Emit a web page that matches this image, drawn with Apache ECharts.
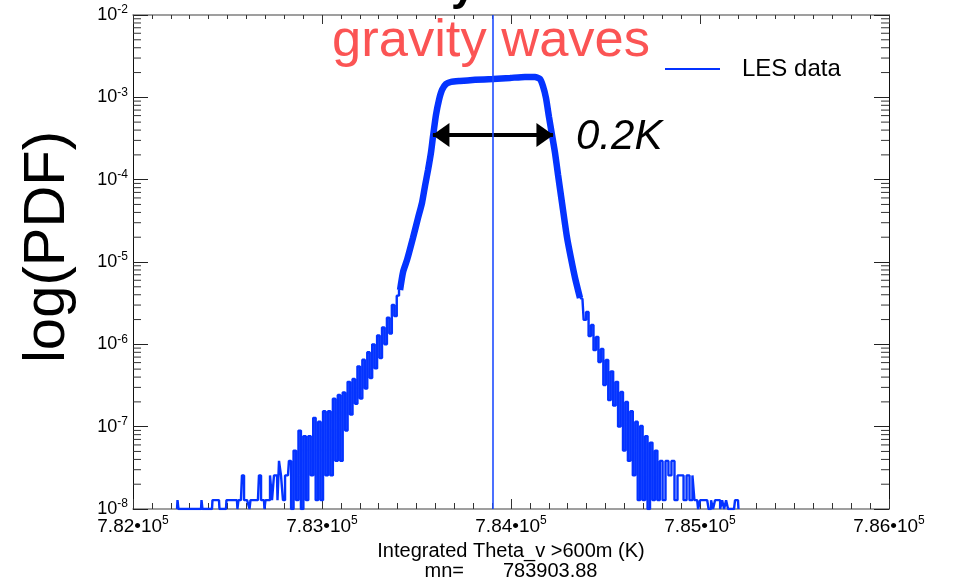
<!DOCTYPE html>
<html>
<head>
<meta charset="utf-8">
<script src="https://cdn.jsdelivr.net/npm/echarts@6/dist/echarts.min.js"></script>
<style>
  html, body { margin: 0; padding: 0; background: #ffffff; }
  #chart { width: 955px; height: 579px; }
</style>
</head>
<body>
<div id="chart"></div>
<script>
// Axis ranges and tick values
const X_MIN = 782000, X_MAX = 786000, X_STEP = 1000;
const Y_MIN = 1e-8, Y_MAX = 1e-2;
const xTickExponent = 5;
const yDecades = [-8, -7, -6, -5, -4, -3];
const yMinorMultipliers = [2, 3, 4, 5, 6, 7, 8, 9];

// Mean of the integrated theta_v field (K)
const meanTheta = 783903.88;

// PDF of integrated theta_v: [theta_v (K), PDF]; empty bins are 0
const leftTail = [
  [782233, 0], [782238, 1.28e-8], [782243, 0],
  [782360, 0], [782365, 1.28e-8], [782370, 0],
  [782418, 0], [782423, 1.28e-8], [782455, 1.28e-8], [782460, 0],
  [782492, 0], [782497, 1.28e-8], [782550, 1.28e-8], [782555, 0],
  [782561, 1.28e-8], [782571, 1.28e-8], [782582, 2.56e-8], [782593, 1.28e-8],
  [782614, 1.28e-8], [782619, 0], [782624, 1.28e-8], [782661, 1.28e-8],
  [782672, 2.56e-8], [782683, 1.28e-8], [782693, 1.28e-8], [782698, 0],
  [782704, 1.28e-8], [782720, 1.28e-8], [782730, 2.56e-8], [782741, 1.28e-8],
  [782751, 2.56e-8], [782762, 2.56e-8], [782767, 1.28e-8], [782778, 3.84e-8],
  [782788, 2.56e-8], [782799, 1.28e-8], [782810, 2.56e-8], [782820, 2.56e-8],
  [782830, 3.84e-8], [782843, 0], [782856, 5.12e-8], [782869, 1.28e-8],
  [782882, 8.96e-8], [782895, 0], [782908, 7.68e-8], [782921, 1.28e-8],
  [782934, 7.68e-8], [782947, 2.56e-8], [782960, 1.28e-7], [782973, 1.28e-8],
  [782986, 1.15e-7], [782999, 1.28e-8], [783012, 1.54e-7], [783025, 2.56e-8],
  [783038, 1.54e-7], [783051, 2.56e-8], [783064, 2.18e-7], [783077, 3.84e-8],
  [783090, 2.43e-7], [783103, 3.84e-8], [783116, 2.6e-7], [783129, 8.96e-8],
  [783142, 3.5e-7], [783155, 1.4e-7], [783168, 3.8e-7], [783181, 1.9e-7],
  [783194, 5.4e-7], [783207, 2.2e-7], [783220, 6.5e-7], [783233, 2.9e-7],
  [783246, 8.0e-7], [783259, 3.9e-7], [783272, 1.0e-6], [783285, 5.1e-7],
  [783298, 1.28e-6], [783311, 6.8e-7], [783324, 1.6e-6], [783337, 1.0e-6],
  [783350, 2.1e-6], [783363, 1.35e-6], [783376, 3.0e-6], [783389, 2.2e-6],
  [783402, 3.9e-6], [783413, 4.57e-6]
];

const core = [
  [783413, 4.57e-6], [783429, 7.57e-6], [783450, 1.06e-5], [783481, 1.95e-5],
  [783508, 3.42e-5], [783529, 5.21e-5], [783545, 8.38e-5], [783561, 1.31e-4],
  [783577, 2.17e-4], [783587, 3.30e-4], [783603, 6.10e-4], [783619, 9.29e-4],
  [783635, 1.23e-3], [783656, 1.45e-3], [783683, 1.54e-3], [783730, 1.58e-3],
  [783810, 1.63e-3], [783905, 1.67e-3], [783995, 1.72e-3], [784074, 1.77e-3],
  [784127, 1.77e-3], [784153, 1.67e-3], [784169, 1.37e-3], [784185, 9.82e-4],
  [784201, 5.77e-4], [784217, 3.49e-4], [784233, 2.11e-4], [784249, 1.14e-4],
  [784270, 5.21e-5], [784296, 2.01e-5], [784317, 1.12e-5], [784339, 6.40e-6],
  [784365, 3.66e-6]
];

const rightTail = [
  [784365, 3.66e-6], [784378, 3.56e-6], [784391, 1.98e-6], [784404, 2.47e-6],
  [784417, 1.26e-6], [784430, 1.72e-6], [784443, 8.5e-7], [784456, 1.23e-6],
  [784469, 6.1e-7], [784482, 8.8e-7], [784495, 3.2e-7], [784508, 6.45e-7],
  [784521, 2.1e-7], [784534, 4.7e-7], [784547, 1.8e-7], [784560, 3.5e-7],
  [784573, 1.0e-7], [784586, 2.64e-7], [784599, 5.12e-8], [784612, 2.0e-7],
  [784625, 3.84e-8], [784638, 1.54e-7], [784651, 2.56e-8], [784664, 1.15e-7],
  [784677, 1.28e-8], [784690, 1.02e-7], [784703, 1.28e-8], [784716, 7.68e-8],
  [784729, 0], [784742, 6.4e-8], [784755, 1.28e-8], [784768, 5.12e-8],
  [784781, 1.28e-8], [784794, 3.84e-8], [784810, 1.28e-8], [784825, 3.84e-8],
  [784841, 2.56e-8], [784857, 3.84e-8], [784873, 1.28e-8], [784889, 2.56e-8],
  [784905, 2.56e-8], [784921, 1.28e-8], [784937, 2.56e-8], [784952, 1.28e-8],
  [784968, 2.56e-8], [784973, 1.28e-8], [784985, 1.28e-8], [784995, 0],
  [785006, 1.28e-8], [785038, 1.28e-8], [785053, 0], [785064, 1.28e-8],
  [785074, 0], [785085, 1.28e-8], [785101, 1.28e-8], [785112, 0],
  [785122, 1.28e-8], [785133, 0], [785143, 1.28e-8], [785154, 0],
  [785180, 0], [785191, 1.28e-8], [785201, 1.28e-8], [785206, 0]
];

// Width annotation (double arrow across the peak)
const widthArrowEnds = [783587, 784222];
const widthArrowLevel = 3.49e-4;
const widthLabel = '0.2K';
const annotationText = 'gravity waves';

const BLUE = '#0433ff';
const FONT = '"Liberation Sans", Arial, sans-serif';

// Empty bins sit on the floor of the log axis
const onLogFloor = pts => pts.map(([x, y]) => [x, y > 0 ? y : Y_MIN]);

const yMinorValues = [];
yDecades.forEach(d => yMinorMultipliers.forEach(m => yMinorValues.push(m * Math.pow(10, d))));

const chart = echarts.init(document.getElementById('chart'), null, { renderer: 'canvas' });

const xLabelRich = {
  m: { fontSize: 19, fontFamily: FONT, color: '#000', lineHeight: 24 },
  e: { fontSize: 12, fontFamily: FONT, color: '#000', lineHeight: 24, verticalAlign: 'top' }
};

const option = {
  animation: false,
  backgroundColor: '#ffffff',
  grid: { left: 133, right: 66, top: 15, bottom: 70, containLabel: false, outerBoundsMode: 'none' },
  legend: {
    data: ['LES data'],
    left: 660, top: 52,
    icon: 'rect', itemWidth: 55, itemHeight: 2,
    textStyle: { fontSize: 24, fontFamily: FONT, color: '#000', padding: [0, 0, 0, 17] },
    selectedMode: false
  },
  xAxis: [
    {
      type: 'value', position: 'bottom',
      min: X_MIN, max: X_MAX, interval: X_STEP,
      axisLine: { show: true, onZero: false, lineStyle: { color: '#808080', width: 1.5 } },
      axisTick: { show: true, inside: true, length: 10, lineStyle: { color: '#333' } },
      minorTick: { show: true, splitNumber: 10, length: 6, lineStyle: { color: '#333' } },
      splitLine: { show: false },
      axisLabel: {
        margin: 6,
        formatter: v => `{m|${(v / 1e5).toFixed(2)}\u202210}{e|${xTickExponent}}`,
        rich: xLabelRich
      },
      name: 'Integrated Theta_v >600m (K)\nmn=       ' + meanTheta.toFixed(2),
      nameLocation: 'middle', nameGap: 27,
      nameTextStyle: { fontSize: 20, fontFamily: FONT, color: '#000', lineHeight: 20 }
    },
    {
      type: 'value', position: 'top',
      min: X_MIN, max: X_MAX, interval: X_STEP,
      axisLine: { show: true, onZero: false, lineStyle: { color: '#808080', width: 1.5 } },
      axisTick: { show: true, inside: true, length: 9, lineStyle: { color: '#333' } },
      minorTick: { show: true, splitNumber: 10, length: 4, lineStyle: { color: '#333' } },
      splitLine: { show: false },
      axisLabel: { show: false }
    }
  ],
  yAxis: [
    {
      type: 'log', logBase: 10, position: 'left',
      min: Y_MIN, max: Y_MAX,
      axisLine: { show: true, onZero: false, lineStyle: { color: '#111', width: 1 } },
      axisTick: { show: true, inside: true, length: 15, lineStyle: { color: '#222' } },
      splitLine: { show: false },
      axisLabel: {
        margin: 5,
        formatter: v => `{m|10}{e|${Math.round(Math.log10(v))}}`,
        rich: {
          m: { fontSize: 18, fontFamily: FONT, color: '#000', lineHeight: 22 },
          e: { fontSize: 12, fontFamily: FONT, color: '#000', lineHeight: 22, verticalAlign: 'top' }
        }
      }
    },
    {
      type: 'log', logBase: 10, position: 'right',
      min: Y_MIN, max: Y_MAX,
      axisLine: { show: true, onZero: false, lineStyle: { color: '#111', width: 1 } },
      axisTick: { show: true, inside: true, length: 15, lineStyle: { color: '#222' } },
      splitLine: { show: false },
      axisLabel: { show: false }
    }
  ],
  series: [
    {
      // minor log ticks at 2..9 x 10^n on both vertical axes
      type: 'custom', silent: true, xAxisIndex: 0, yAxisIndex: 0, z: 1,
      data: yMinorValues.map(v => [X_MIN, v]),
      renderItem(params, api) {
        const v = api.value(1);
        const l = api.coord([X_MIN, v]);
        const r = api.coord([X_MAX, v]);
        const st = { stroke: '#333', lineWidth: 1 };
        return {
          type: 'group', children: [
            { type: 'line', shape: { x1: l[0], y1: l[1], x2: l[0] + 8, y2: l[1] }, style: st },
            { type: 'line', shape: { x1: r[0] - 8, y1: r[1], x2: r[0], y2: r[1] }, style: st }
          ]
        };
      }
    },
    {
      name: 'LES data', type: 'line', xAxisIndex: 0, yAxisIndex: 0,
      data: onLogFloor(leftTail), step: 'middle', showSymbol: false, symbol: 'none',
      lineStyle: { color: BLUE, width: 2.4 }, itemStyle: { color: BLUE }, z: 3
    },
    {
      name: 'LES data', type: 'line', xAxisIndex: 0, yAxisIndex: 0,
      data: onLogFloor(rightTail), step: 'middle', showSymbol: false, symbol: 'none',
      lineStyle: { color: BLUE, width: 2.4 }, itemStyle: { color: BLUE }, z: 3
    },
    {
      name: 'LES data', type: 'line', xAxisIndex: 0, yAxisIndex: 0,
      data: core, smooth: 0.2, showSymbol: false, symbol: 'none',
      lineStyle: { color: BLUE, width: 6.5 }, itemStyle: { color: BLUE }, z: 4,
      markLine: {
        silent: true, animation: false,
        label: { show: false },
        data: [
          [
            { coord: [widthArrowEnds[0], widthArrowLevel], symbol: 'triangle', symbolSize: [24, 17], symbolOffset: [0, 8],
              lineStyle: { color: '#000', width: 4, type: 'solid' }, itemStyle: { color: '#000' } },
            { coord: [widthArrowEnds[1], widthArrowLevel], symbol: 'triangle', symbolSize: [24, 17], symbolOffset: [0, 8] }
          ]
        ]
      }
    },
    {
      // vertical marker at the mean value, drawn over the curve
      name: 'mean', type: 'line', xAxisIndex: 0, yAxisIndex: 0, data: [], z: 5,
      markLine: {
        silent: true, symbol: 'none', animation: false,
        label: { show: false },
        lineStyle: { color: '#1f4dff', width: 1.6, type: 'solid' },
        data: [{ xAxis: meanTheta }]
      }
    }
  ],
  graphic: [
    {
      type: 'text', left: 332, top: 15, silent: true,
      style: { text: annotationText, fontSize: 52.5, fontFamily: FONT, fill: '#fb5454' }
    },
    {
      type: 'text', left: 576, top: 116, silent: true,
      style: { text: widthLabel, fontSize: 42, fontStyle: 'italic', fontFamily: FONT, fill: '#000' }
    },
    {
      type: 'text', x: 48, y: 247, rotation: Math.PI / 2, silent: true,
      style: { text: 'log(PDF)', fontSize: 58, fontFamily: FONT, fill: '#000', align: 'center', verticalAlign: 'middle' }
    },
    {
      type: 'text', x: 451, y: 10, silent: true,
      style: { text: 'y', fontSize: 44, fontWeight: 'bold', fontFamily: FONT, fill: '#000', align: 'left', verticalAlign: 'bottom' }
    }
  ]
};

chart.setOption(option);
</script>
</body>
</html>
